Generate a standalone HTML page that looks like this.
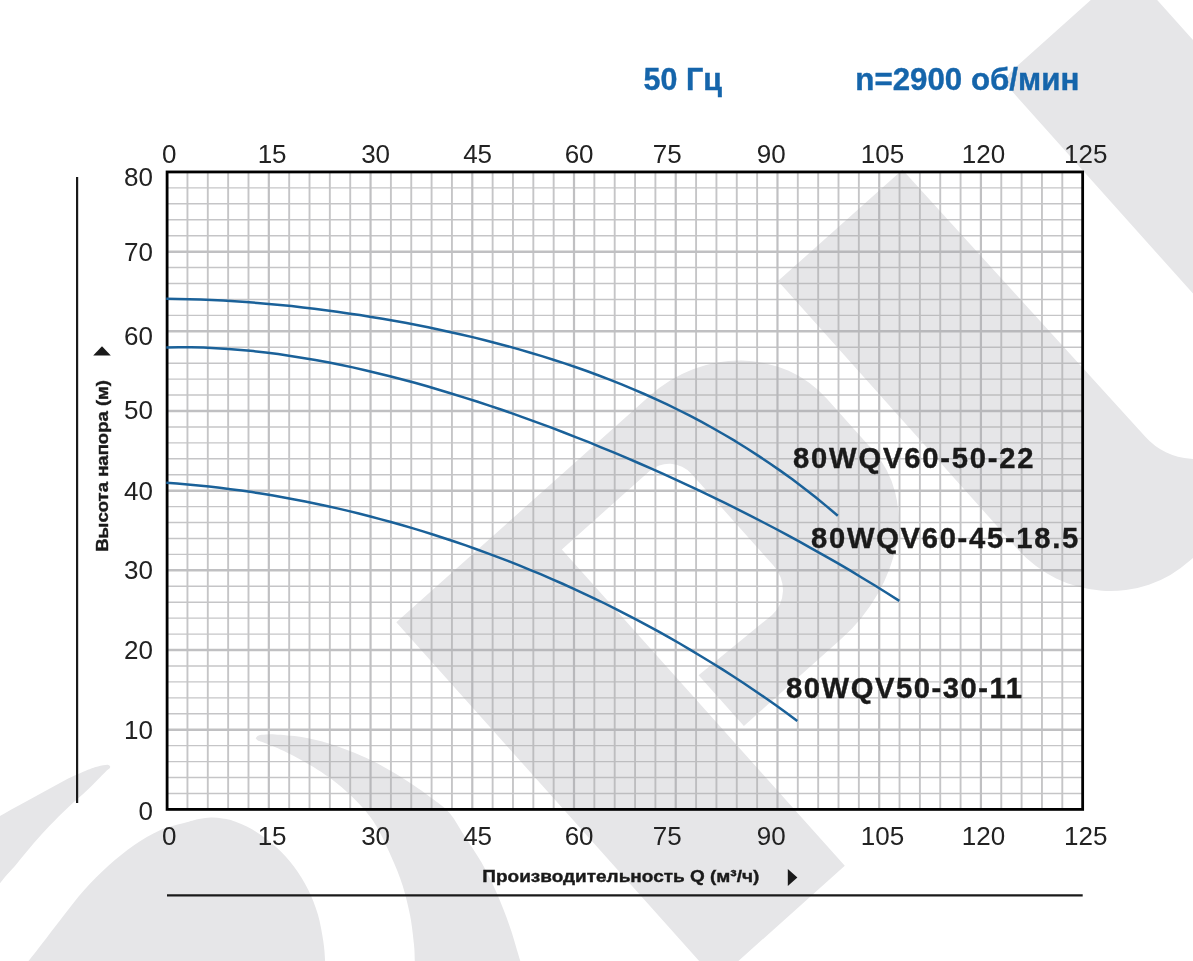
<!DOCTYPE html>
<html><head><meta charset="utf-8"><title>Pump curves</title>
<style>html,body{margin:0;padding:0;background:#fff;}body{width:1193px;height:961px;overflow:hidden;font-family:"Liberation Sans",sans-serif;}</style></head>
<body>
<svg width="1193" height="961" viewBox="0 0 1193 961" style="display:block;will-change:transform">
<rect width="1193" height="961" fill="#fff"/>
<g fill="#e6e6e8">
<g transform="translate(396.3,622.3) rotate(-41.8)">
<path d="M0,0 L340,0 A130,120 0 0 1 470,120 L470,190 A150,119 0 0 1 320,309 L190,309 L190,241 L285,245 A34,36 0 0 0 319,209 L319,86 A30,30 0 0 0 289,56 L172,56 L172,480.5 L0,480.5 Z"/>
<path d="M512,0 L679,0 L682,361 A65.5,66 0 0 0 813,361 L813,14 Q813,-1 828,-1 L982,-1 L982,360 A120,123 0 0 1 862,483 L632,483 A120,123 0 0 1 512,360 Z"/>
</g>
<path d="M110.2,766.4 C109.7,766.1 109.4,764.7 107.4,764.7 C105.4,764.7 101.2,765.5 98.0,766.4 C94.8,767.2 93.2,767.6 87.9,769.8 C82.6,772.0 73.2,776.1 65.9,779.7 C58.6,783.4 51.2,787.7 43.9,791.7 C36.6,795.7 29.3,799.8 22.0,803.8 C14.7,807.8 7.0,812.0 0.0,815.9 C-7.0,819.8 -16.7,825.1 -20.0,827.0 L-20,912 C-16.7,907.2 -6.1,891.3 0.0,883.3 C6.1,875.2 11.2,870.3 16.8,863.7 C22.4,857.1 27.9,850.0 33.5,843.6 C39.1,837.2 44.7,831.0 50.3,825.1 C55.9,819.2 60.7,814.3 67.0,808.4 C73.3,802.5 81.5,795.6 87.9,789.5 C94.3,783.4 101.8,775.5 105.4,772.0 C109.0,768.5 108.6,769.5 109.4,768.6 C110.2,767.7 110.1,766.8 110.2,766.4 Z"/>
<path d="M16,980 L28.5,961 C31.6,957.1 41.0,945.0 46.9,937.4 C52.8,929.8 57.6,923.4 63.7,915.6 C69.9,907.8 76.3,898.9 83.8,890.5 C91.3,882.1 100.5,872.8 108.9,865.3 C117.3,857.8 125.5,851.1 134.0,845.2 C142.5,839.4 151.2,834.0 160.0,830.2 C168.8,826.4 180.2,824.2 186.7,822.3 C193.2,820.4 194.9,819.8 199.0,819.0 C203.1,818.2 207.1,817.7 211.0,817.6 C214.9,817.5 218.8,818.0 222.5,818.6 C226.2,819.2 228.0,819.1 233.4,821.1 C238.8,823.1 247.7,826.6 254.8,830.9 C261.9,835.2 269.6,841.1 276.1,847.0 C282.6,852.9 288.5,859.4 293.9,866.5 C299.2,873.6 304.2,881.7 308.2,889.7 C312.2,897.7 315.4,906.0 317.9,914.6 C320.4,923.2 322.1,933.6 323.3,941.3 C324.5,949.0 324.7,954.5 325.1,961.0 C325.6,967.5 325.9,976.8 326.0,980.0 L326,980 Z"/>
<path d="M255.6,738.2 C256.1,737.8 256.9,736.1 258.6,735.5 C260.3,734.9 263.2,734.8 266.0,734.6 C268.8,734.4 269.3,734.0 275.2,734.4 C281.1,734.8 292.8,735.5 301.6,737.0 C310.4,738.5 319.2,740.6 328.0,743.2 C336.8,745.8 345.6,749.1 354.4,752.8 C363.2,756.5 372.0,760.5 380.8,765.2 C389.6,769.9 398.4,775.3 407.2,781.0 C416.0,786.7 426.5,794.1 433.6,799.5 C440.7,804.9 444.8,807.4 450.0,813.6 C455.2,819.8 459.4,828.3 464.7,836.5 C470.0,844.7 476.4,853.4 481.7,862.8 C487.0,872.2 492.0,882.3 496.7,893.0 C501.4,903.7 506.0,915.6 509.9,926.9 C513.8,938.2 517.6,952.1 520.3,961.0 C523.0,969.9 525.0,976.8 526.0,980.0 L415,980 C415.0,976.8 415.0,967.0 414.8,961.0 C414.6,955.0 414.7,951.4 413.9,943.8 C413.1,936.2 412.0,925.3 410.1,915.6 C408.2,905.9 405.7,895.2 402.6,885.4 C399.5,875.6 395.6,866.6 391.4,857.0 C387.2,847.4 382.0,835.8 377.3,827.7 C372.6,819.6 368.5,814.5 363.2,808.3 C357.9,802.1 351.5,796.0 345.6,790.7 C339.7,785.4 333.9,780.9 328.0,776.6 C322.1,772.4 317.7,769.5 310.4,765.2 C303.1,761.0 291.9,754.9 284.0,751.1 C276.1,747.3 267.2,744.0 262.9,742.3 C258.6,740.6 259.6,741.5 258.4,740.8 C257.2,740.1 256.1,738.6 255.6,738.2 Z"/>
</g>
<g opacity="0.68">
<g stroke="#ababad" fill="none">
<line x1="187.45" y1="171.95" x2="187.45" y2="809.4" stroke-width="1.9"/>
<line x1="207.79" y1="171.95" x2="207.79" y2="809.4" stroke-width="1.9"/>
<line x1="228.14" y1="171.95" x2="228.14" y2="809.4" stroke-width="1.9"/>
<line x1="248.48" y1="171.95" x2="248.48" y2="809.4" stroke-width="1.9"/>
<line x1="289.17" y1="171.95" x2="289.17" y2="809.4" stroke-width="1.9"/>
<line x1="309.52" y1="171.95" x2="309.52" y2="809.4" stroke-width="1.9"/>
<line x1="329.86" y1="171.95" x2="329.86" y2="809.4" stroke-width="1.9"/>
<line x1="350.21" y1="171.95" x2="350.21" y2="809.4" stroke-width="1.9"/>
<line x1="390.90" y1="171.95" x2="390.90" y2="809.4" stroke-width="1.9"/>
<line x1="411.25" y1="171.95" x2="411.25" y2="809.4" stroke-width="1.9"/>
<line x1="431.59" y1="171.95" x2="431.59" y2="809.4" stroke-width="1.9"/>
<line x1="451.94" y1="171.95" x2="451.94" y2="809.4" stroke-width="1.9"/>
<line x1="492.63" y1="171.95" x2="492.63" y2="809.4" stroke-width="1.9"/>
<line x1="512.97" y1="171.95" x2="512.97" y2="809.4" stroke-width="1.9"/>
<line x1="533.32" y1="171.95" x2="533.32" y2="809.4" stroke-width="1.9"/>
<line x1="553.67" y1="171.95" x2="553.67" y2="809.4" stroke-width="1.9"/>
<line x1="594.36" y1="171.95" x2="594.36" y2="809.4" stroke-width="1.9"/>
<line x1="614.70" y1="171.95" x2="614.70" y2="809.4" stroke-width="1.9"/>
<line x1="635.05" y1="171.95" x2="635.05" y2="809.4" stroke-width="1.9"/>
<line x1="655.39" y1="171.95" x2="655.39" y2="809.4" stroke-width="1.9"/>
<line x1="696.08" y1="171.95" x2="696.08" y2="809.4" stroke-width="1.9"/>
<line x1="716.43" y1="171.95" x2="716.43" y2="809.4" stroke-width="1.9"/>
<line x1="736.78" y1="171.95" x2="736.78" y2="809.4" stroke-width="1.9"/>
<line x1="757.12" y1="171.95" x2="757.12" y2="809.4" stroke-width="1.9"/>
<line x1="797.81" y1="171.95" x2="797.81" y2="809.4" stroke-width="1.9"/>
<line x1="818.16" y1="171.95" x2="818.16" y2="809.4" stroke-width="1.9"/>
<line x1="838.50" y1="171.95" x2="838.50" y2="809.4" stroke-width="1.9"/>
<line x1="858.85" y1="171.95" x2="858.85" y2="809.4" stroke-width="1.9"/>
<line x1="899.54" y1="171.95" x2="899.54" y2="809.4" stroke-width="1.9"/>
<line x1="919.89" y1="171.95" x2="919.89" y2="809.4" stroke-width="1.9"/>
<line x1="940.23" y1="171.95" x2="940.23" y2="809.4" stroke-width="1.9"/>
<line x1="960.58" y1="171.95" x2="960.58" y2="809.4" stroke-width="1.9"/>
<line x1="1001.27" y1="171.95" x2="1001.27" y2="809.4" stroke-width="1.9"/>
<line x1="1021.61" y1="171.95" x2="1021.61" y2="809.4" stroke-width="1.9"/>
<line x1="1041.96" y1="171.95" x2="1041.96" y2="809.4" stroke-width="1.9"/>
<line x1="1062.30" y1="171.95" x2="1062.30" y2="809.4" stroke-width="1.9"/>
<line x1="167.1" y1="187.89" x2="1082.65" y2="187.89" stroke-width="1.4"/>
<line x1="167.1" y1="203.82" x2="1082.65" y2="203.82" stroke-width="1.4"/>
<line x1="167.1" y1="219.76" x2="1082.65" y2="219.76" stroke-width="1.4"/>
<line x1="167.1" y1="235.69" x2="1082.65" y2="235.69" stroke-width="1.4"/>
<line x1="167.1" y1="267.57" x2="1082.65" y2="267.57" stroke-width="1.4"/>
<line x1="167.1" y1="283.50" x2="1082.65" y2="283.50" stroke-width="1.4"/>
<line x1="167.1" y1="299.44" x2="1082.65" y2="299.44" stroke-width="1.4"/>
<line x1="167.1" y1="315.38" x2="1082.65" y2="315.38" stroke-width="1.4"/>
<line x1="167.1" y1="347.25" x2="1082.65" y2="347.25" stroke-width="1.4"/>
<line x1="167.1" y1="363.19" x2="1082.65" y2="363.19" stroke-width="1.4"/>
<line x1="167.1" y1="379.12" x2="1082.65" y2="379.12" stroke-width="1.4"/>
<line x1="167.1" y1="395.06" x2="1082.65" y2="395.06" stroke-width="1.4"/>
<line x1="167.1" y1="426.93" x2="1082.65" y2="426.93" stroke-width="1.4"/>
<line x1="167.1" y1="442.87" x2="1082.65" y2="442.87" stroke-width="1.4"/>
<line x1="167.1" y1="458.80" x2="1082.65" y2="458.80" stroke-width="1.4"/>
<line x1="167.1" y1="474.74" x2="1082.65" y2="474.74" stroke-width="1.4"/>
<line x1="167.1" y1="506.61" x2="1082.65" y2="506.61" stroke-width="1.4"/>
<line x1="167.1" y1="522.55" x2="1082.65" y2="522.55" stroke-width="1.4"/>
<line x1="167.1" y1="538.48" x2="1082.65" y2="538.48" stroke-width="1.4"/>
<line x1="167.1" y1="554.42" x2="1082.65" y2="554.42" stroke-width="1.4"/>
<line x1="167.1" y1="586.29" x2="1082.65" y2="586.29" stroke-width="1.4"/>
<line x1="167.1" y1="602.23" x2="1082.65" y2="602.23" stroke-width="1.4"/>
<line x1="167.1" y1="618.16" x2="1082.65" y2="618.16" stroke-width="1.4"/>
<line x1="167.1" y1="634.10" x2="1082.65" y2="634.10" stroke-width="1.4"/>
<line x1="167.1" y1="665.97" x2="1082.65" y2="665.97" stroke-width="1.4"/>
<line x1="167.1" y1="681.91" x2="1082.65" y2="681.91" stroke-width="1.4"/>
<line x1="167.1" y1="697.85" x2="1082.65" y2="697.85" stroke-width="1.4"/>
<line x1="167.1" y1="713.78" x2="1082.65" y2="713.78" stroke-width="1.4"/>
<line x1="167.1" y1="745.65" x2="1082.65" y2="745.65" stroke-width="1.4"/>
<line x1="167.1" y1="761.59" x2="1082.65" y2="761.59" stroke-width="1.4"/>
<line x1="167.1" y1="777.53" x2="1082.65" y2="777.53" stroke-width="1.4"/>
<line x1="167.1" y1="793.46" x2="1082.65" y2="793.46" stroke-width="1.4"/>
</g>
<g stroke="#a3a3a6" fill="none">
<line x1="268.83" y1="171.95" x2="268.83" y2="809.4" stroke-width="2.2"/>
<line x1="370.56" y1="171.95" x2="370.56" y2="809.4" stroke-width="2.2"/>
<line x1="472.28" y1="171.95" x2="472.28" y2="809.4" stroke-width="2.2"/>
<line x1="574.01" y1="171.95" x2="574.01" y2="809.4" stroke-width="2.2"/>
<line x1="675.74" y1="171.95" x2="675.74" y2="809.4" stroke-width="2.2"/>
<line x1="777.47" y1="171.95" x2="777.47" y2="809.4" stroke-width="2.2"/>
<line x1="879.19" y1="171.95" x2="879.19" y2="809.4" stroke-width="2.2"/>
<line x1="980.92" y1="171.95" x2="980.92" y2="809.4" stroke-width="2.2"/>
<line x1="167.1" y1="251.63" x2="1082.65" y2="251.63" stroke-width="2.5"/>
<line x1="167.1" y1="331.31" x2="1082.65" y2="331.31" stroke-width="2.5"/>
<line x1="167.1" y1="410.99" x2="1082.65" y2="410.99" stroke-width="2.5"/>
<line x1="167.1" y1="490.68" x2="1082.65" y2="490.68" stroke-width="2.5"/>
<line x1="167.1" y1="570.36" x2="1082.65" y2="570.36" stroke-width="2.5"/>
<line x1="167.1" y1="650.04" x2="1082.65" y2="650.04" stroke-width="2.5"/>
<line x1="167.1" y1="729.72" x2="1082.65" y2="729.72" stroke-width="2.5"/>
</g>
</g>
<rect x="167.1" y="171.95" width="915.55" height="637.45" fill="none" stroke="#000" stroke-width="2.8"/>
<line x1="77.1" y1="177" x2="77.1" y2="803" stroke="#1a1a1a" stroke-width="2.2"/>
<line x1="167" y1="895.4" x2="1082.7" y2="895.4" stroke="#1a1a1a" stroke-width="2.2"/>
<g fill="none" stroke="#1a6199" stroke-width="2.5" stroke-linecap="butt" stroke-linejoin="round">
<path d="M166.3,298.8 L177.7,298.9 L189.1,299.2 L200.4,299.5 L211.8,300.0 L223.2,300.6 L234.6,301.3 L246.0,302.0 L257.4,302.9 L268.7,303.9 L280.1,305.0 L291.5,306.1 L302.9,307.4 L314.3,308.8 L325.6,310.2 L337.0,311.7 L348.4,313.4 L359.8,315.1 L371.2,316.9 L382.5,318.8 L393.9,320.8 L405.3,322.8 L416.7,325.0 L428.1,327.3 L439.5,329.7 L450.8,332.2 L462.2,334.7 L473.6,337.4 L485.0,340.2 L496.4,343.2 L507.7,346.2 L519.1,349.4 L530.5,352.7 L541.9,356.1 L553.3,359.7 L564.6,363.4 L576.0,367.3 L587.4,371.3 L598.8,375.5 L610.2,379.8 L621.6,384.4 L632.9,389.1 L644.3,394.0 L655.7,399.1 L667.1,404.4 L678.5,410.0 L689.8,415.7 L701.2,421.7 L712.6,428.0 L724.0,434.5 L735.4,441.2 L746.7,448.3 L758.1,455.6 L769.5,463.2 L780.9,471.1 L792.3,479.3 L803.7,487.9 L815.0,496.8 L826.4,506.1 L837.8,515.7"/>
<path d="M166.3,347.4 L178.7,347.2 L191.1,347.3 L203.6,347.6 L216.0,348.2 L228.4,348.9 L240.8,349.9 L253.3,351.1 L265.7,352.5 L278.1,354.1 L290.5,355.9 L303.0,357.9 L315.4,360.0 L327.8,362.3 L340.2,364.8 L352.7,367.4 L365.1,370.2 L377.5,373.2 L389.9,376.3 L402.4,379.5 L414.8,382.8 L427.2,386.3 L439.6,390.0 L452.0,393.7 L464.5,397.6 L476.9,401.5 L489.3,405.6 L501.7,409.8 L514.2,414.1 L526.6,418.6 L539.0,423.1 L551.4,427.7 L563.9,432.5 L576.3,437.3 L588.7,442.2 L601.1,447.3 L613.6,452.4 L626.0,457.6 L638.4,463.0 L650.8,468.4 L663.2,473.9 L675.7,479.6 L688.1,485.3 L700.5,491.1 L712.9,497.1 L725.4,503.1 L737.8,509.3 L750.2,515.6 L762.6,522.0 L775.1,528.5 L787.5,535.1 L799.9,541.9 L812.3,548.8 L824.8,555.8 L837.2,562.9 L849.6,570.2 L862.0,577.7 L874.5,585.3 L886.9,593.0 L899.3,600.9"/>
<path d="M166.3,482.8 L177.0,483.6 L187.7,484.5 L198.4,485.5 L209.1,486.6 L219.8,487.8 L230.5,489.2 L241.2,490.6 L251.9,492.1 L262.6,493.8 L273.2,495.6 L283.9,497.5 L294.6,499.4 L305.3,501.5 L316.0,503.7 L326.7,506.0 L337.4,508.4 L348.1,510.9 L358.8,513.5 L369.5,516.2 L380.2,519.1 L390.9,522.0 L401.6,525.0 L412.3,528.1 L423.0,531.4 L433.7,534.7 L444.4,538.2 L455.1,541.8 L465.8,545.4 L476.5,549.2 L487.1,553.1 L497.8,557.1 L508.5,561.2 L519.2,565.4 L529.9,569.8 L540.6,574.2 L551.3,578.8 L562.0,583.5 L572.7,588.3 L583.4,593.3 L594.1,598.3 L604.8,603.5 L615.5,608.8 L626.2,614.3 L636.9,619.8 L647.6,625.6 L658.3,631.4 L669.0,637.4 L679.7,643.5 L690.4,649.8 L701.0,656.2 L711.7,662.7 L722.4,669.4 L733.1,676.3 L743.8,683.3 L754.5,690.5 L765.2,697.8 L775.9,705.3 L786.6,713.0 L797.3,720.9"/>
</g>
<g font-family="Liberation Sans, sans-serif" font-size="26" fill="#222">
<text x="169.2" y="163.2" text-anchor="middle">0</text>
<text x="169.2" y="845.0" text-anchor="middle">0</text>
<text x="272.1" y="163.2" text-anchor="middle">15</text>
<text x="272.1" y="845.0" text-anchor="middle">15</text>
<text x="375.6" y="163.2" text-anchor="middle">30</text>
<text x="375.6" y="845.0" text-anchor="middle">30</text>
<text x="477.6" y="163.2" text-anchor="middle">45</text>
<text x="477.6" y="845.0" text-anchor="middle">45</text>
<text x="579.1" y="163.2" text-anchor="middle">60</text>
<text x="579.1" y="845.0" text-anchor="middle">60</text>
<text x="667.3" y="163.2" text-anchor="middle">75</text>
<text x="667.3" y="845.0" text-anchor="middle">75</text>
<text x="771.3" y="163.2" text-anchor="middle">90</text>
<text x="771.3" y="845.0" text-anchor="middle">90</text>
<text x="882.5" y="163.2" text-anchor="middle">105</text>
<text x="882.5" y="845.0" text-anchor="middle">105</text>
<text x="983.5" y="163.2" text-anchor="middle">120</text>
<text x="983.5" y="845.0" text-anchor="middle">120</text>
<text x="1085.7" y="163.2" text-anchor="middle">125</text>
<text x="1085.7" y="845.0" text-anchor="middle">125</text>
<text x="153" y="186.1" text-anchor="end">80</text>
<text x="153" y="260.7" text-anchor="end">70</text>
<text x="153" y="345.1" text-anchor="end">60</text>
<text x="153" y="419.1" text-anchor="end">50</text>
<text x="153" y="499.5" text-anchor="end">40</text>
<text x="153" y="579.4" text-anchor="end">30</text>
<text x="153" y="659.1" text-anchor="end">20</text>
<text x="153" y="739.2" text-anchor="end">10</text>
<text x="153" y="819.5" text-anchor="end">0</text>
</g>
<g font-family="Liberation Sans, sans-serif" font-weight="bold" fill="#1565ab" stroke="#1565ab" stroke-width="0.4" font-size="30.5">
<text x="643.6" y="90.2" textLength="78.3" lengthAdjust="spacingAndGlyphs">50 Гц</text>
<text x="855.3" y="90.2" textLength="224" lengthAdjust="spacingAndGlyphs">n=2900 об/мин</text>
</g>
<g font-family="Liberation Sans, sans-serif" font-weight="bold" fill="#1a1a1a" stroke="#1a1a1a" stroke-width="0.4" font-size="29.2">
<text x="793" y="467.6" textLength="240.5" lengthAdjust="spacing">80WQV60-50-22</text>
<text x="811" y="548" textLength="267.3" lengthAdjust="spacing">80WQV60-45-18.5</text>
<text x="786" y="697.5" textLength="236" lengthAdjust="spacing">80WQV50-30-11</text>
</g>
<g font-family="Liberation Sans, sans-serif" font-weight="bold" fill="#1a1a1a" stroke="#1a1a1a" stroke-width="0.4" font-size="17.4">
<text x="482.3" y="882.4" textLength="277" lengthAdjust="spacingAndGlyphs">Производительность Q (м³/ч)</text>
<text transform="translate(107.5,551.8) rotate(-90)" textLength="171.8" lengthAdjust="spacingAndGlyphs">Высота напора (м)</text>
</g>
<path d="M787.8,869 L797.4,877.5 L787.8,886 Z" fill="#1a1a1a"/>
<path d="M93.2,355.6 L102,346.2 L110.8,355.6 Z" fill="#1a1a1a"/>
</svg>
</body></html>
